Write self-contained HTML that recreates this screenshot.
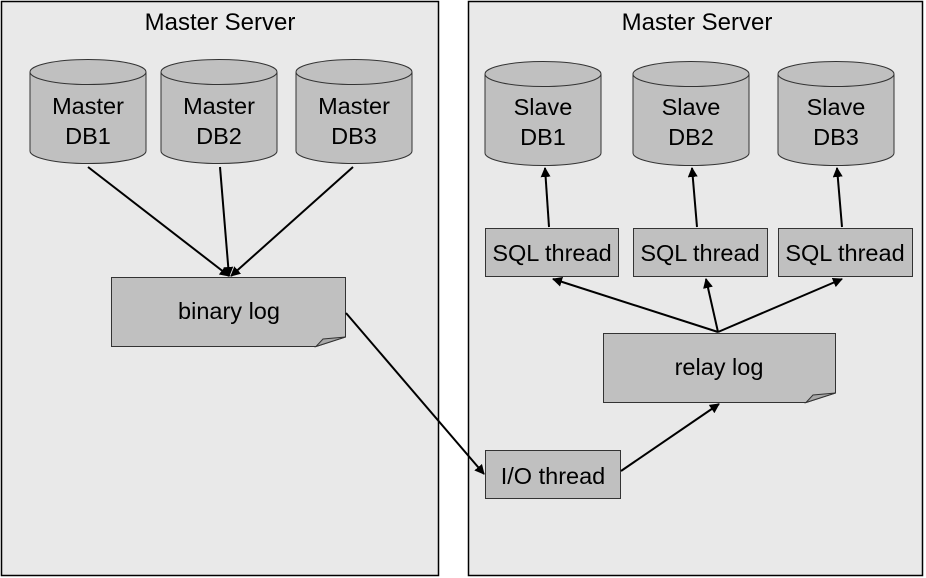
<!DOCTYPE html>
<html><head><style>html,body{margin:0;padding:0;background:#fff}svg{display:block}</style></head>
<body>
<svg width="926" height="578" viewBox="0 0 926 578" xmlns="http://www.w3.org/2000/svg" font-family="Liberation Sans, Arial, sans-serif">
<defs>
<marker id="a" markerWidth="10" markerHeight="10" refX="9" refY="5" orient="auto" markerUnits="userSpaceOnUse">
<path d="M0,0 L10,5 L0,10 z" fill="#000"/>
</marker>
</defs>
<rect x="1.5" y="1.5" width="437" height="574" fill="#e9e9e9" stroke="#000" stroke-width="1.5"/>
<rect x="468.5" y="1.5" width="454" height="574" fill="#e9e9e9" stroke="#000" stroke-width="1.5"/>
<g font-size="24" text-anchor="middle" fill="#000">
<text x="220" y="30">Master Server</text>
<text x="697" y="30">Master Server</text>
</g>
<g fill="#c0c0c0" stroke="#333" stroke-width="1">
<path d="M30,72 V151 A58,12.5 0 0 0 146,151 V72"/><ellipse cx="88" cy="72" rx="58" ry="12.5"/>
<path d="M161,72 V151 A58,12.5 0 0 0 277,151 V72"/><ellipse cx="219" cy="72" rx="58" ry="12.5"/>
<path d="M296,72 V151 A58,12.5 0 0 0 412,151 V72"/><ellipse cx="354" cy="72" rx="58" ry="12.5"/>
<path d="M485,74 V153 A58,12.5 0 0 0 601,153 V74"/><ellipse cx="543" cy="74" rx="58" ry="12.5"/>
<path d="M633,74 V153 A58,12.5 0 0 0 749,153 V74"/><ellipse cx="691" cy="74" rx="58" ry="12.5"/>
<path d="M778,74 V153 A58,12.5 0 0 0 894,153 V74"/><ellipse cx="836" cy="74" rx="58" ry="12.5"/>
<path d="M111.5,277.5 H345.5 V337 L316,346.5 H111.5 Z"/>
<path d="M316,346.5 L323,339 L345.5,337 Z" fill="#a8a8a8"/>
<path d="M603.5,333.5 H835.5 V393 L806,402.5 H603.5 Z"/>
<path d="M806,402.5 L813,395 L835.5,393 Z" fill="#a8a8a8"/>
<rect x="485.5" y="228.5" width="133" height="48"/>
<rect x="633.5" y="228.5" width="134" height="48"/>
<rect x="778.5" y="228.5" width="134" height="48"/>
<rect x="485.5" y="450.5" width="135" height="48"/>
</g>
<g font-size="23.5" text-anchor="middle" fill="#000">
<text x="88" y="114">Master</text><text x="88" y="144">DB1</text>
<text x="219" y="114">Master</text><text x="219" y="144">DB2</text>
<text x="354" y="114">Master</text><text x="354" y="144">DB3</text>
<text x="543" y="115">Slave</text><text x="543" y="145">DB1</text>
<text x="691" y="115">Slave</text><text x="691" y="145">DB2</text>
<text x="836" y="115">Slave</text><text x="836" y="145">DB3</text>
<text x="229" y="319">binary log</text>
<text x="719" y="375">relay log</text>
<text x="552" y="261">SQL thread</text>
<text x="700" y="261">SQL thread</text>
<text x="845" y="261">SQL thread</text>
<text x="553" y="484">I/O thread</text>
</g>
<g stroke="#000" stroke-width="2" fill="none" marker-end="url(#a)">
<line x1="88" y1="167" x2="229" y2="276"/>
<line x1="220" y1="167" x2="229" y2="276"/>
<line x1="353" y1="167" x2="231" y2="276"/>
<line x1="346" y1="313" x2="484" y2="474"/>
<line x1="621" y1="471" x2="719" y2="404"/>
<line x1="718" y1="332" x2="553" y2="279"/>
<line x1="718" y1="332" x2="706" y2="279"/>
<line x1="718" y1="332" x2="842" y2="279"/>
<line x1="549" y1="227" x2="545" y2="168"/>
<line x1="697" y1="227" x2="692" y2="168"/>
<line x1="842" y1="227" x2="837" y2="168"/>
</g>
</svg>
</body></html>
